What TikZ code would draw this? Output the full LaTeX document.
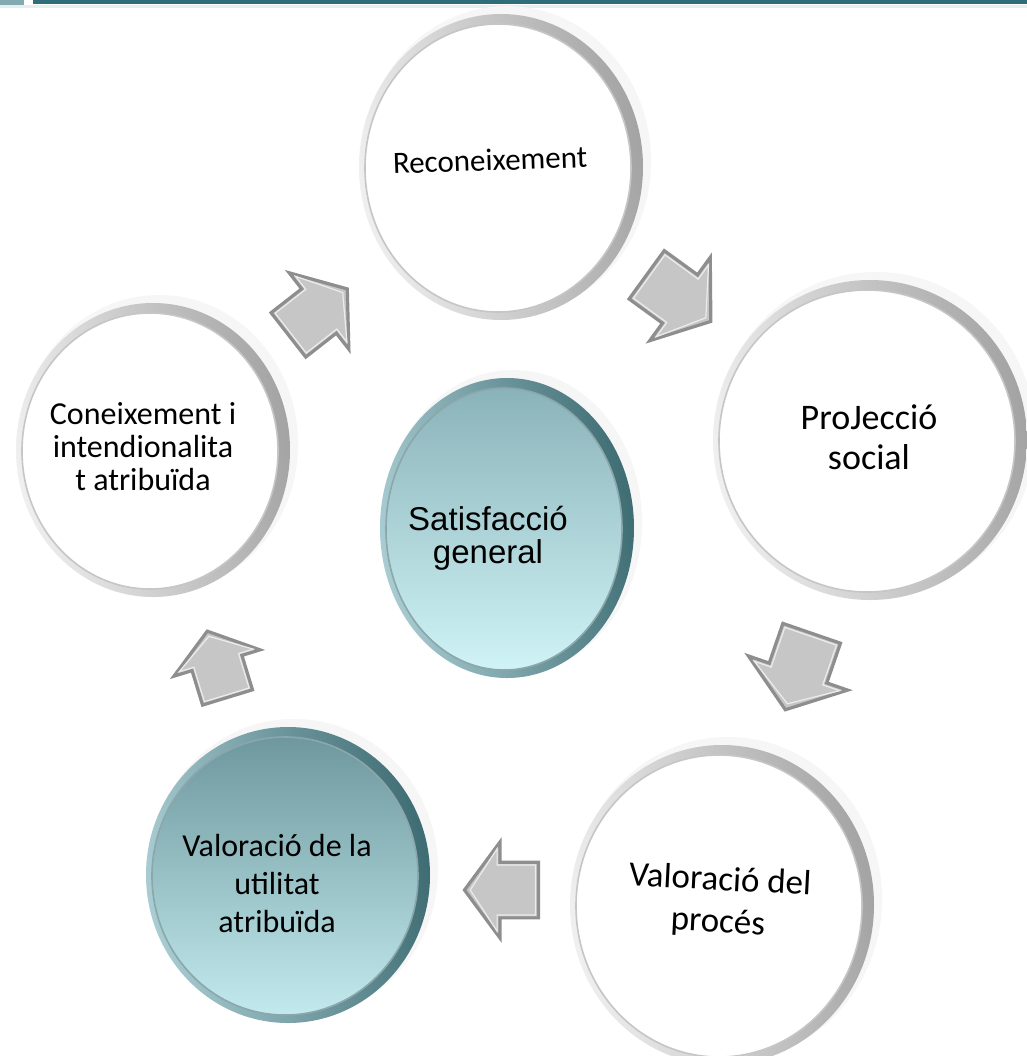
\documentclass[tikz,border=0pt]{standalone}
\usepackage{fontspec}
\setmainfont{Carlito}
\newfontfamily\arialf{Liberation Sans}
\definecolor{barteal}{HTML}{2F6E79}
\definecolor{barlight}{HTML}{82AAB0}
\definecolor{arrowfill}{HTML}{C6C6C6}
\definecolor{arrowedge}{HTML}{8E8E8E}
\definecolor{tealrimL}{HTML}{A9CDD2}
\definecolor{tealrimD}{HTML}{3E6C73}
\definecolor{ctop}{HTML}{8AB3B9}
\definecolor{cbot}{HTML}{CFF3F6}
\definecolor{btop}{HTML}{6E989E}
\definecolor{bbot}{HTML}{C2EAEE}
\tikzset{
  lbl/.style={align=center, text=black, inner sep=0pt},
}
% white bubble: cx cy rx ry
\newcommand{\whitebub}[4]{%
  \fill[gray!7] (#1+6,#2-6) ellipse [x radius=#3+2, y radius=#4+2];
  \shade[left color=gray!12, right color=gray!72, shading angle=100] (#1,#2) ellipse [x radius=#3, y radius=#4];
  \fill[white] (#1-3,#2+1) ellipse [x radius=#3-9, y radius=#4-9];
  \draw[gray!45, line width=0.8] (#1-3,#2+1) ellipse [x radius=#3-9, y radius=#4-9];
}
% teal bubble: cx cy rx ry topcolor bottomcolor
\newcommand{\tealbub}[6]{%
  \fill[gray!7] (#1+6,#2-6) ellipse [x radius=#3+2, y radius=#4+2];
  \shade[left color=tealrimL, right color=tealrimD, shading angle=100] (#1,#2) ellipse [x radius=#3, y radius=#4];
  \shade[top color=#5, bottom color=#6] (#1-3,#2+1) ellipse [x radius=#3-9, y radius=#4-9];
  \draw[tealrimD!60, line width=0.8] (#1-3,#2+1) ellipse [x radius=#3-9, y radius=#4-9];
}
% block arrow: cx cy angle scale
\newcommand{\blkarrow}[4]{%
  \begin{scope}[shift={(#1,#2)}, rotate=#3, scale=#4]
    \filldraw[fill=arrowfill, draw=arrowedge, line width=1.6, line join=miter]
      (-40,-29) -- (0,-29) -- (0,-50) -- (37,0) -- (0,50) -- (0,29) -- (-40,29) -- cycle;
    \draw[white!85!gray, line width=0.6, line join=miter]
      (-37,-26) -- (3,-26) -- (3,-43) -- (31,0) -- (3,43) -- (3,26) -- (-37,26) -- cycle;
  \end{scope}
}
\begin{document}
\begin{tikzpicture}[x=0.5pt,y=-0.5pt]
\useasboundingbox (0,0) rectangle (1027,1056);
\fill[white] (0,0) rectangle (1027,1056);
% top bar
\fill[barlight] (0,0) rectangle (24,5);
\fill[barteal] (33,0) rectangle (1027,4);
\fill[barteal!12] (0,5) rectangle (1027,8);

% bubbles
\whitebub{501}{167}{142}{153}
\whitebub{870}{440}{157}{160}
\whitebub{722}{905}{152}{160}
\whitebub{153}{450}{137}{147}
\tealbub{288}{875}{142}{148}{btop}{bbot}
\tealbub{507}{528}{127}{150}{ctop}{cbot}

% arrows
\blkarrow{319}{311}{38}{0.97}
\blkarrow{680}{299}{-36}{1.03}
\blkarrow{798}{673}{-109}{1.05}
\blkarrow{500}{890}{180}{0.96}
\blkarrow{217}{663}{107}{0.9}

% labels
\node[lbl, font=\fontsize{15.5}{18}\selectfont, rotate=2] (rec) at (490,160) {Reconeixement};
\node[lbl, font=\fontsize{18}{20}\selectfont] (proj) at (869,437) {ProJecció\\social};
\node[lbl, font=\fontsize{17.5}{21}\selectfont, rotate=-3] (proc) at (719,902) {Valoració del\\procés};
\node[lbl, font=\fontsize{16}{19}\selectfont] (util) at (277,883) {Valoració de la\\utilitat\\atribuïda};
\node[lbl, font=\fontsize{16}{16.5}\selectfont] (con) at (143,447) {Coneixement i\\intendionalita\\t atribuïda};
\node[lbl, font=\arialf\fontsize{16.5}{16.5}\selectfont] (sat) at (488,538) {Satisfacció\\general};
\end{tikzpicture}
\end{document}
